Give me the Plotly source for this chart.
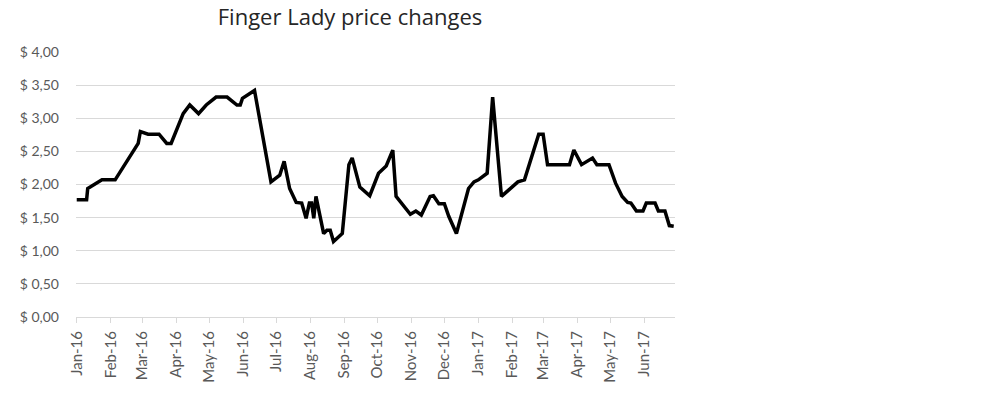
import plotly.graph_objects as go

dates = [
    "2016-01-01", "2016-01-10", "2016-01-11", "2016-01-24", "2016-02-05", "2016-02-26",
    "2016-02-28", "2016-03-06", "2016-03-16", "2016-03-23", "2016-03-27", "2016-04-07",
    "2016-04-13", "2016-04-21", "2016-04-28", "2016-05-07", "2016-05-17", "2016-05-26",
    "2016-05-29", "2016-05-31", "2016-06-11", "2016-06-19", "2016-06-26", "2016-07-04",
    "2016-07-08", "2016-07-13", "2016-07-19", "2016-07-24", "2016-07-28", "2016-07-31",
    "2016-08-02", "2016-08-04", "2016-08-06", "2016-08-13", "2016-08-16", "2016-08-19",
    "2016-08-22", "2016-08-30", "2016-09-05", "2016-09-08", "2016-09-15", "2016-09-24",
    "2016-10-02", "2016-10-09", "2016-10-15", "2016-10-18", "2016-10-31", "2016-11-05",
    "2016-11-10", "2016-11-18", "2016-11-21", "2016-11-26", "2016-12-01", "2016-12-05",
    "2016-12-12", "2016-12-23", "2016-12-28", "2017-01-01", "2017-01-09", "2017-01-14",
    "2017-01-22", "2017-02-06", "2017-02-12", "2017-02-25", "2017-03-01", "2017-03-05",
    "2017-03-25", "2017-03-29", "2017-04-05", "2017-04-15", "2017-04-19", "2017-04-30",
    "2017-05-06", "2017-05-12", "2017-05-17", "2017-05-20", "2017-05-25", "2017-05-31",
    "2017-06-03", "2017-06-11", "2017-06-14", "2017-06-20", "2017-06-24", "2017-06-28",
]
prices = [
    1.77, 1.77, 1.94, 2.07, 2.07, 2.62,
    2.80, 2.76, 2.76, 2.62, 2.62, 3.07,
    3.20, 3.07, 3.20, 3.32, 3.32, 3.20,
    3.20, 3.30, 3.42, 2.65, 2.04, 2.14,
    2.35, 1.94, 1.73, 1.72, 1.49, 1.72,
    1.72, 1.49, 1.82, 1.26, 1.31, 1.31,
    1.14, 1.26, 2.30, 2.40, 1.96, 1.83,
    2.17, 2.28, 2.52, 1.82, 1.55, 1.60,
    1.54, 1.82, 1.83, 1.71, 1.71, 1.52,
    1.26, 1.94, 2.04, 2.07, 2.17, 3.32,
    1.82, 2.04, 2.07, 2.76, 2.76, 2.30,
    2.30, 2.52, 2.30, 2.40, 2.30, 2.30,
    2.02, 1.82, 1.73, 1.72, 1.60, 1.60,
    1.72, 1.72, 1.60, 1.60, 1.38, 1.37,
]

y_tick_values = [0, 0.5, 1.0, 1.5, 2.0, 2.5, 3.0, 3.5, 4.0]
y_tick_labels = ["$ 0,00", "$ 0,50", "$ 1,00", "$ 1,50", "$ 2,00",
                 "$ 2,50", "$ 3,00", "$ 3,50", "$ 4,00"]

title_text = "Finger Lady price changes"

FONT = "Lato"
GRID = "#d9d9d9"
TXT = "#595959"

W, H = 1007, 398

fig = go.Figure()
fig.add_trace(go.Scatter(
    x=dates, y=prices, mode="lines",
    line=dict(color="black", width=3.5),
    hoverinfo="x+y",
))

fig.update_layout(
    width=W, height=H,
    margin=dict(l=76, r=332, t=52, b=81),
    paper_bgcolor="white", plot_bgcolor="white",
    showlegend=False,
    font=dict(family=FONT, size=14, color=TXT),
    title=dict(
        text=title_text,
        font=dict(family="Open Sans", size=22, color="#262626"),
        x=350 / W, xref="container", xanchor="center",
        y=1 - 17 / H, yref="container", yanchor="middle",
    ),
    xaxis=dict(
        type="date",
        range=["2015-12-31 08:00", "2017-06-29 04:00"],
        dtick="M1", tick0="2016-01-01",
        tickformat="%b-%y", tickangle=-90,
        tickfont=dict(family=FONT, size=15, color=TXT),
        showgrid=False, zeroline=False,
        showline=True, linecolor=GRID, linewidth=1,
        ticks="outside", ticklen=5, tickcolor=GRID, tickwidth=1,
        ticklabelstandoff=2,
    ),
    yaxis=dict(
        range=[0, 4],
        tickvals=y_tick_values, ticktext=y_tick_labels,
        tickfont=dict(family=FONT, size=14, color=TXT),
        showgrid=True, gridcolor=GRID, gridwidth=1,
        zeroline=False, showline=False, ticks="",
        ticklabelstandoff=16,
    ),
)

# Remove the default page margin so the figure fills the window exactly.
fig.write_html(
    "out.html",
    config={"displayModeBar": False},
    post_script="document.body.style.margin='0px';",
)
